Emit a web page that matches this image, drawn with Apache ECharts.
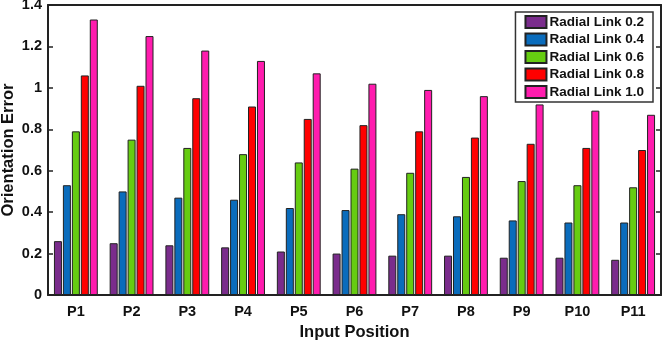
<!DOCTYPE html>
<html>
<head>
<meta charset="utf-8">
<script src="https://cdn.jsdelivr.net/npm/echarts@6/dist/echarts.min.js"></script>
<style>
  html, body { margin: 0; padding: 0; background: #fff; }
  #chart { width: 669px; height: 340px; }
</style>
</head>
<body>
<div id="chart"></div>
<script>
// categories and values
var positions = ["P1", "P2", "P3", "P4", "P5", "P6", "P7", "P8", "P9", "P10", "P11"];
var link02 = [0.26, 0.25, 0.24, 0.23, 0.21, 0.20, 0.19, 0.19, 0.18, 0.18, 0.17];
var link04 = [0.53, 0.50, 0.47, 0.46, 0.42, 0.41, 0.39, 0.38, 0.36, 0.35, 0.35];
var link06 = [0.79, 0.75, 0.71, 0.68, 0.64, 0.61, 0.59, 0.57, 0.55, 0.53, 0.52];
var link08 = [1.06, 1.01, 0.95, 0.91, 0.85, 0.82, 0.79, 0.76, 0.73, 0.71, 0.70];
var link10 = [1.33, 1.25, 1.18, 1.13, 1.07, 1.02, 0.99, 0.96, 0.92, 0.89, 0.87];
var yTicks = [0, 0.2, 0.4, 0.6, 0.8, 1, 1.2, 1.4];

var names = ["Radial Link 0.2", "Radial Link 0.4", "Radial Link 0.6", "Radial Link 0.8", "Radial Link 1.0"];
var colors = ["#7a2c8c", "#0a6cbc", "#66cc11", "#ff0000", "#ff1cae"];
var datas = [link02, link04, link06, link08, link10];

var font = "Arial, 'Liberation Sans', sans-serif";

var chart = echarts.init(document.getElementById("chart"));

var series = [];
for (var i = 0; i < datas.length; i++) {
    series.push({
        name: names[i],
        type: "bar",
        data: datas[i],
        barWidth: 8,
        barGap: "12%",
        itemStyle: {
            color: colors[i],
            borderColor: "#222",
            borderWidth: 1
        }
    });
}

var option = {
    animation: false,
    grid: { left: 48, right: 8, top: 5, bottom: 45, containLabel: false, outerBoundsMode: "none" },
    legend: {
        orient: "vertical",
        right: 16,
        top: 12,
        data: names,
        icon: "rect",
        itemWidth: 21,
        itemHeight: 12,
        itemGap: 3.5,
        padding: [3, 9, 3, 9],
        backgroundColor: "#fff",
        borderColor: "#333",
        borderWidth: 1.5,
        textStyle: { fontFamily: font, fontWeight: "bold", fontSize: 13.5, lineHeight: 14, color: "#111", padding: [0, 0, 0, -2] }
    },
    xAxis: [{
        type: "category",
        data: positions,
        name: "Input Position",
        nameLocation: "middle",
        nameGap: 29,
        nameMoveOverlap: false,
        nameTextStyle: { fontFamily: font, fontWeight: "bold", fontSize: 16.5, color: "#111" },
        axisLine: { lineStyle: { color: "#222", width: 2 } },
        axisTick: { inside: true, alignWithLabel: true, length: 5, lineStyle: { color: "#222", width: 1.5 } },
        axisLabel: { fontFamily: font, fontWeight: "bold", fontSize: 14.5, color: "#111", margin: 9 }
    }, {
        type: "category",
        data: positions,
        position: "top",
        axisLine: { onZero: false, lineStyle: { color: "#222", width: 2 } },
        axisTick: { inside: true, alignWithLabel: true, length: 5, lineStyle: { color: "#222", width: 1.5 } },
        axisLabel: { show: false }
    }],
    yAxis: [{
        type: "value",
        min: 0,
        max: 1.4,
        interval: 0.2,
        name: "Orientation Error",
        nameLocation: "middle",
        nameGap: 31,
        nameMoveOverlap: false,
        nameTextStyle: { fontFamily: font, fontWeight: "bold", fontSize: 16.5, color: "#111" },
        splitLine: { show: false },
        axisLine: { show: true, lineStyle: { color: "#222", width: 2 } },
        axisTick: { show: true, inside: true, length: 5, lineStyle: { color: "#222", width: 1.5 } },
        axisLabel: {
            fontFamily: font, fontWeight: "bold", fontSize: 14.5, color: "#111", margin: 6,
            formatter: function (v) {
                var s = Math.round(v * 10) / 10;
                return yTicks.indexOf(s) >= 0 ? String(s) : "";
            }
        }
    }, {
        type: "value",
        min: 0,
        max: 1.4,
        interval: 0.2,
        position: "right",
        splitLine: { show: false },
        axisLine: { show: true, onZero: false, lineStyle: { color: "#222", width: 2 } },
        axisTick: { show: true, inside: true, length: 5, lineStyle: { color: "#222", width: 1.5 } },
        axisLabel: { show: false }
    }],
    series: series
};

chart.setOption(option);
</script>
</body>
</html>
